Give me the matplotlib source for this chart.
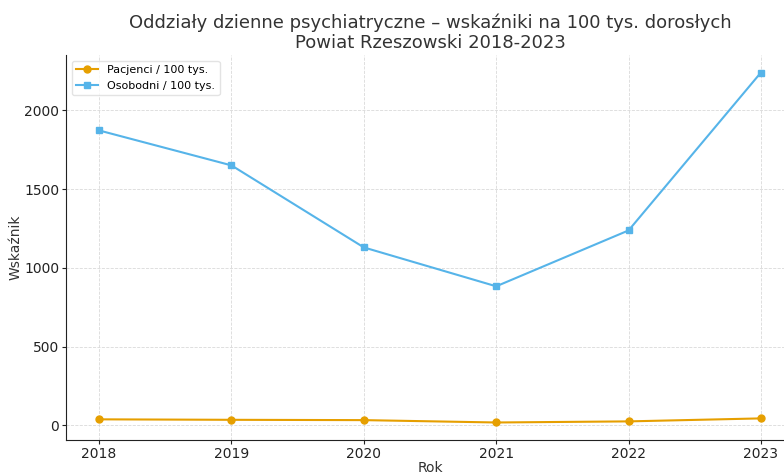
import matplotlib.pyplot as plt

years = [2018, 2019, 2020, 2021, 2022, 2023]
pacjenci = [38, 35, 33, 18, 25, 44]
osobodni = [1873, 1651, 1130, 883, 1238, 2241]

fig = plt.figure(figsize=(7.84, 4.73), dpi=100)
ax = fig.add_axes([0.0842, 0.0698, 0.9286, 0.8139])

ax.plot(years, pacjenci, marker='o', markersize=5, linestyle='-', color='#E69F00',
        linewidth=1.5, label='Pacjenci / 100 tys.')
ax.plot(years, osobodni, marker='s', markersize=5, linestyle='-', color='#56B4E9',
        linewidth=1.5, label='Osobodni / 100 tys.')

ax.set_title('Oddziały dzienne psychiatryczne – wskaźniki na 100 tys. dorosłych\nPowiat Rzeszowski 2018-2023',
             fontsize=13, color='#333333', linespacing=1.15, pad=5)
ax.set_xlabel('Rok', fontsize=10, color='#333333', labelpad=0)
ax.set_ylabel('Wskaźnik', fontsize=10, color='#333333', labelpad=1)
ax.set_xticks(years)
ax.set_yticks([0, 500, 1000, 1500, 2000])
ax.tick_params(labelsize=10, colors='#222222', length=3, pad=2)
ax.grid(True, linestyle='--', linewidth=0.6, color='#d9d9d9')
ax.spines['top'].set_visible(False)
ax.spines['right'].set_visible(False)
ax.spines['left'].set_color('#222222')
ax.spines['bottom'].set_color('#222222')
ax.legend(loc='upper left', fontsize=8, framealpha=0.8, edgecolor='#dddddd')

fig.savefig('out.png', dpi=100)
